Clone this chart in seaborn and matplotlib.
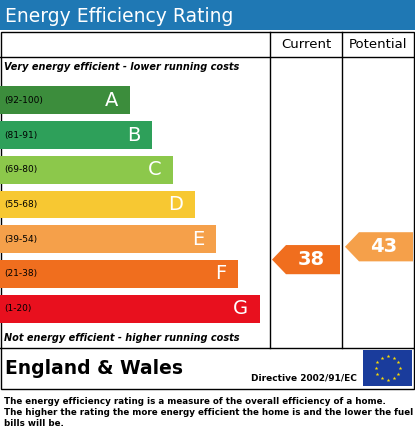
import matplotlib
matplotlib.use("Agg")
import matplotlib.pyplot as plt
import seaborn as sns
import numpy as np
import pandas as pd
from matplotlib.patches import Rectangle, Polygon

letters = ["A", "B", "C", "D", "E", "F", "G"]
ranges = ["(92-100)", "(81-91)", "(69-80)", "(55-68)", "(39-54)", "(21-38)", "(1-20)"]
band_low = [92, 81, 69, 55, 39, 21, 1]
bar_len = [130, 152, 173, 195, 216, 238, 260]
colors = ["#3c8d3c", "#2ea05a", "#8cc84b", "#f7c832", "#f5a04a", "#f06e1e", "#e8101e"]
current = 38
potential = 43

W, H = 415, 437
fig = plt.figure(figsize=(W/100, H/100), dpi=100)
ax0 = fig.add_axes([0, 0, 1, 1])
ax0.set_xlim(0, W); ax0.set_ylim(H, 0); ax0.axis("off")

def fy(y):
    return 1 - y / H

ax0.add_patch(Rectangle((0, 0), W, 30, color="#1f78b4", lw=0))
ax0.text(5, 16, "Energy Efficiency Rating", color="white", fontsize=13.5, va="center", ha="left")
ax0.add_patch(Rectangle((0.5, 32), W-1.5, 357, fill=False, ec="black", lw=1))
ax0.plot([0, W], [57, 57], color="black", lw=1)
ax0.plot([0, W], [348, 348], color="black", lw=1)
ax0.plot([270, 270], [32, 348], color="black", lw=1)
ax0.plot([342, 342], [32, 348], color="black", lw=1)
ax0.text(306, 45, "Current", fontsize=9.5, ha="center", va="center")
ax0.text(378, 45, "Potential", fontsize=9.5, ha="center", va="center")
ax0.text(4, 67, "Very energy efficient - lower running costs", fontsize=7, style="italic", weight="bold", va="center")
ax0.text(4, 338, "Not energy efficient - higher running costs", fontsize=7, style="italic", weight="bold", va="center")
ax0.text(5, 369, "England & Wales", fontsize=13.5, weight="bold", va="center")
ax0.text(357, 378, "Directive 2002/91/EC", fontsize=6.5, weight="bold", ha="right", va="center")
ax0.add_patch(Rectangle((363, 350), 49, 36, color="#1a3c9c", lw=0))
ang = np.linspace(0, 2*np.pi, 13)[:-1]
ax0.scatter(387.5 + 12*np.cos(ang), 368 + 12*np.sin(ang), marker="*", s=8, color="#ffdd00", lw=0)
footer = ("The energy efficiency rating is a measure of the overall efficiency of a home.\n"
          "The higher the rating the more energy efficient the home is and the lower the fuel\n"
          "bills will be.")
ax0.text(4, 397, footer, fontsize=6.3, weight="bold", va="top", linespacing=1.3)

top, bot = 83, 326
ax = fig.add_axes([0, fy(bot), 1, (bot-top)/H])
df = pd.DataFrame({"letter": letters, "len": bar_len})
sns.barplot(data=df, y="letter", x="len", hue="letter", palette=colors, orient="h",
            width=0.8, ax=ax, legend=False, saturation=1)
ax.set_xlim(0, W); ax.set_ylim(6.5, -0.5); ax.axis("off")
for i, (l, r, n) in enumerate(zip(letters, ranges, bar_len)):
    ax.text(4, i, r, fontsize=6.5, va="center")
    ax.text(n - 12, i, l, fontsize=14, color="white", va="center", ha="right")

def band_of(v):
    for i, lo in enumerate(band_low):
        if v >= lo:
            return i
    return 6

def arrow(v, x0, x1, col):
    r = (100 - v) / 100 * 7.4
    h = 0.42
    ax.add_patch(Polygon([(x0, r), (x0+14, r-h), (x1, r-h), (x1, r+h), (x0+14, r+h)],
                         closed=True, color=col, lw=0))
    ax.text((x0+x1)/2 + 5, r, str(v), fontsize=14, weight="bold", color="white", ha="center", va="center")

arrow(current, 272, 340, colors[band_of(current)])
arrow(potential, 345, 413, colors[band_of(potential)])
fig.savefig("out.png", dpi=100)
